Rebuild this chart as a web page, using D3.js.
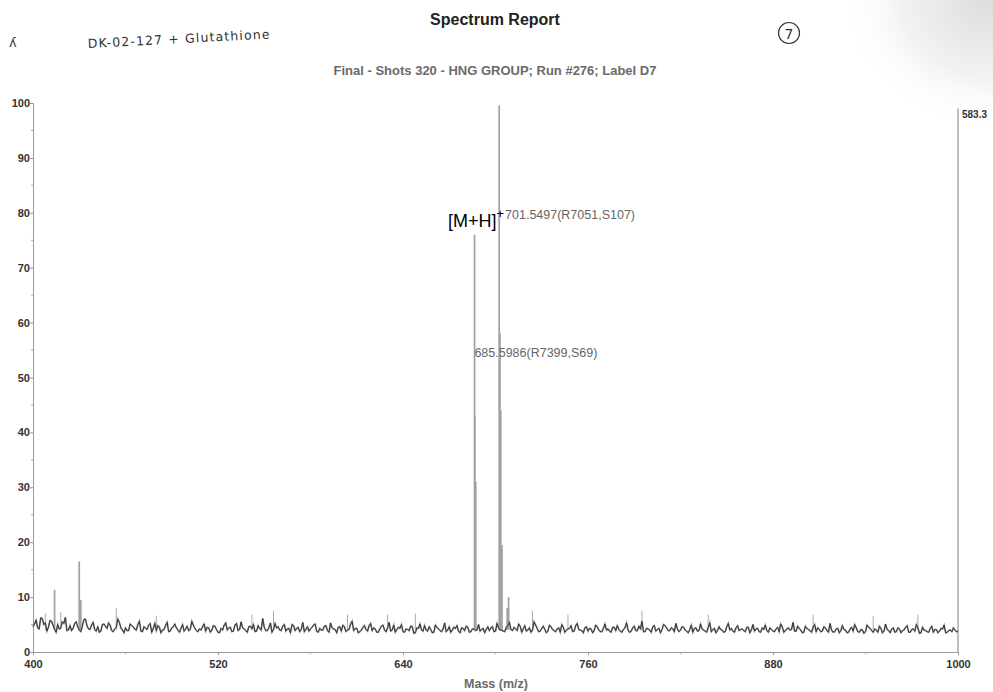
<!DOCTYPE html>
<html>
<head>
<meta charset="utf-8">
<script src="https://cdnjs.cloudflare.com/ajax/libs/d3/7.8.5/d3.min.js"></script>
<style>
  html, body { margin: 0; padding: 0; background: #fff; }
  svg { display: block; }
</style>
</head>
<body>
<svg id="spectrum"></svg>
<script>
// baseline noise (% intensity), even m/z 400..1000
const noiseEven = [
  4.6, 5.8, 4.2, 6.1, 5.3, 4.5, 5.6, 4.1, 5.0, 4.4, 5.2, 3.9, 4.8, 4.3, 5.5, 4.0, 4.7, 6.0, 4.2, 4.9,
  4.1, 4.6, 3.8, 5.1, 4.3, 4.9, 3.7, 4.5, 5.4, 4.0, 4.4, 3.9, 4.8, 4.2, 5.0, 3.8, 4.6, 4.1, 5.2, 4.3,
  3.9, 4.5, 4.0, 4.8, 3.7, 4.4, 5.1, 4.0, 4.3, 3.8, 4.7, 4.1, 4.9, 3.9, 4.2, 4.6, 3.8, 4.4, 4.0, 4.7,
  3.6, 4.3, 4.9, 4.0, 4.5, 3.8, 5.2, 4.1, 4.4, 3.9, 4.6, 4.2, 3.7, 4.8, 4.0, 4.5, 3.9, 5.3, 4.1, 4.4,
  4.0, 4.7, 3.8, 4.3, 5.0, 3.9, 4.5, 4.1, 3.7, 4.6, 4.2, 4.9, 3.8, 4.3, 4.0, 4.8, 3.6, 4.4, 4.1, 4.5,
  3.8, 4.6, 4.0, 5.1, 3.9, 4.3, 3.7, 4.5, 4.1, 4.8, 3.9, 4.2, 3.6, 4.7, 4.0, 4.4, 3.8, 4.9, 4.1, 4.3,
  3.7, 4.2, 3.9, 4.6, 3.5, 4.3, 4.0, 4.8, 3.8, 4.1, 3.6, 4.5, 3.9, 4.2, 3.7, 4.6, 4.0, 4.3, 3.8, 4.4,
  3.9, 4.5, 3.7, 4.2, 4.0, 3.8, 4.3, 4.1, 3.9, 4.6, 3.8, 4.4, 4.0, 3.7, 4.8, 4.1, 4.5, 3.9, 4.7, 4.2,
  3.8, 4.4, 4.0, 4.9, 3.7, 4.3, 4.1, 3.8, 4.6, 3.9, 4.2, 3.6, 4.5, 4.0, 4.3, 3.7, 4.8, 4.1, 3.9, 4.4,
  3.8, 4.2, 3.9, 4.6, 3.7, 4.3, 4.0, 3.8, 4.5, 3.9, 4.1, 3.6, 4.4, 4.0, 3.8, 4.7, 3.9, 4.2, 3.7, 4.3,
  4.0, 4.6, 3.8, 4.3, 4.1, 4.8, 3.9, 4.4, 3.7, 4.2, 4.0, 4.5, 3.8, 4.1, 3.6, 4.4, 3.9, 4.2, 3.8, 4.5,
  3.7, 4.3, 3.9, 4.1, 3.6, 4.6, 4.0, 3.8, 4.4, 3.9, 4.2, 3.7, 4.5, 4.0, 3.8, 4.3, 3.6, 4.1, 3.9, 4.4,
  3.8, 4.2, 3.7, 4.6, 3.9, 4.4, 4.1, 3.8, 4.7, 4.0, 3.6, 4.3, 3.9, 4.5, 3.7, 4.1, 3.8, 4.4, 3.6, 4.0,
  3.7, 4.3, 3.9, 4.1, 3.5, 4.2, 3.8, 4.4, 3.6, 4.0, 3.7, 4.5, 3.9, 4.2, 3.6, 4.3, 3.8, 4.1, 3.5, 4.4,
  3.7, 4.2, 3.9, 4.5, 3.6, 4.1, 3.8, 4.4, 3.5, 4.0, 3.7, 4.3, 3.6, 4.1, 3.8, 4.2, 3.5, 3.9, 3.7, 4.0, 3.8
];
// odd m/z 401..999
const noiseOdd = [
  5.1, 4.4, 6.2, 5.0, 3.8, 5.7, 4.9, 3.6, 4.2, 5.5, 6.3, 4.0, 3.9, 5.2, 4.6, 3.7, 5.9, 4.8, 4.1, 5.4,
  3.8, 3.6, 5.0, 4.7, 5.3, 3.9, 4.2, 6.0, 4.4, 3.5, 3.9, 5.1, 4.6, 4.0, 5.6, 3.7, 4.3, 4.9, 3.6, 5.2,
  4.8, 3.5, 4.1, 5.4, 3.8, 4.6, 4.4, 3.6, 5.0, 4.2, 3.9, 5.6, 4.3, 3.7, 4.0, 5.1, 4.5, 3.6, 4.8, 4.1,
  3.5, 4.0, 5.3, 4.4, 3.7, 4.9, 3.9, 5.5, 4.2, 3.6, 4.7, 5.0, 3.8, 4.3, 6.1, 3.9, 4.4, 3.6, 5.2, 4.6,
  3.9, 5.0, 4.2, 3.5, 4.8, 4.3, 3.7, 5.4, 4.1, 3.8, 4.5, 5.1, 3.6, 4.0, 4.7, 3.9, 5.3, 4.2, 3.5, 4.6,
  4.9, 3.7, 4.1, 5.6, 4.3, 3.5, 4.0, 4.8, 3.8, 5.2, 4.4, 3.6, 4.2, 4.9, 3.7, 5.4, 4.0, 3.6, 4.5, 5.0,
  3.6, 4.1, 4.7, 3.4, 4.4, 5.1, 3.8, 4.0, 4.6, 3.5, 4.9, 4.2, 3.7, 5.3, 4.0, 3.6, 4.5, 4.8, 3.5, 4.3,
  4.7, 3.6, 4.2, 3.9, 5.0, 4.1, 3.5, 4.6, 4.4, 3.7, 5.2, 4.0, 3.8, 4.5, 5.4, 3.9, 4.2, 5.1, 3.6, 4.8,
  4.0, 3.6, 5.5, 4.3, 3.8, 4.7, 3.5, 4.9, 4.1, 3.7, 4.4, 5.0, 3.6, 4.2, 4.8, 3.8, 5.2, 4.0, 3.5, 4.6,
  4.3, 3.5, 4.9, 4.0, 3.7, 5.1, 4.2, 3.6, 4.5, 4.8, 3.8, 4.1, 5.3, 3.6, 4.4, 3.9, 4.7, 5.6, 3.7, 4.2,
  3.6, 4.8, 4.1, 3.5, 5.0, 4.4, 3.9, 4.2, 5.2, 3.7, 4.6, 4.0, 3.5, 4.9, 4.3, 3.8, 5.1, 4.0, 3.6, 5.3,
  4.1, 3.5, 4.6, 4.0, 3.7, 5.2, 4.3, 3.6, 4.8, 4.1, 3.9, 4.5, 3.5, 5.0, 4.2, 3.7, 4.4, 4.9, 3.6, 4.1,
  3.7, 4.5, 5.1, 3.6, 4.2, 4.0, 5.4, 3.8, 4.3, 3.5, 4.7, 4.1, 3.6, 5.0, 4.4, 3.7, 4.6, 3.9, 5.2, 3.6,
  4.2, 3.5, 4.8, 4.0, 3.6, 4.5, 5.0, 3.7, 4.1, 3.4, 4.9, 4.3, 3.6, 4.0, 4.7, 3.5, 5.1, 3.9, 4.2, 3.6,
  4.4, 3.5, 4.0, 4.8, 3.6, 4.2, 5.0, 3.4, 4.5, 3.9, 3.6, 4.7, 4.1, 3.5, 4.3, 4.9, 3.6, 4.0, 4.4, 3.7
];

// small grey spikes sticking out of the noise
const spikeMz = [408, 418, 454, 480, 542, 556, 604, 630, 648, 724, 747, 795, 838, 906, 945, 974];
const spikeInt = [7.0, 7.3, 8.0, 6.6, 6.8, 7.5, 6.8, 6.8, 7.0, 7.5, 6.8, 7.5, 6.8, 6.8, 6.5, 6.8];

// peaks (m/z, % intensity)
const peakMz = [414, 430, 431, 686.4, 686.6, 687.2, 702.4, 702.9, 703.4, 704.2, 707.6, 708.5];
const peakInt = [11.3, 16.5, 9.5, 76, 43, 31, 99.6, 58, 44, 19.5, 8, 10];

const xTicks = [400, 520, 640, 760, 880, 1000];
const xMinor = [460, 580, 700, 820, 940];
const yTicks = [0, 10, 20, 30, 40, 50, 60, 70, 80, 90, 100];

const labelMz = [706.2, 686.3];
const labelInt = [79.6, 54.4];
const labelText = ["701.5497(R7051,S107)", "685.5986(R7399,S69)"];

const width = 993, height = 692;
const marginLeft = 33, marginRight = 35, marginTop = 103, marginBottom = 40;

const x = d3.scaleLinear([400, 1000], [marginLeft, width - marginRight]);
const y = d3.scaleLinear([0, 100], [height - marginBottom, marginTop]);

// interleave even and odd m/z samples into one trace
const trace = noiseEven.map((v, i) => [400 + 2 * i, v])
  .concat(noiseOdd.map((v, i) => [401 + 2 * i, v]))
  .sort((a, b) => a[0] - b[0]);

const svg = d3.select("#spectrum")
  .attr("width", width)
  .attr("height", height)
  .attr("viewBox", [0, 0, width, height])
  .attr("font-family", "'Liberation Sans', Arial, sans-serif");

// scanned paper shading in the top right corner
const defs = svg.append("defs");
const grad = defs.append("radialGradient").attr("id", "smudge")
  .attr("cx", "100%").attr("cy", "0%").attr("r", "100%");
grad.append("stop").attr("offset", "0%").attr("stop-color", "#dcdcdc");
grad.append("stop").attr("offset", "60%").attr("stop-color", "#f2f2f2");
grad.append("stop").attr("offset", "100%").attr("stop-color", "#ffffff").attr("stop-opacity", 0);
svg.append("rect")
  .attr("x", 840).attr("y", 0).attr("width", 153).attr("height", 130)
  .attr("fill", "url(#smudge)");

// titles
svg.append("text")
  .attr("x", 495).attr("y", 25)
  .attr("text-anchor", "middle")
  .attr("font-size", 16).attr("font-weight", "bold").attr("fill", "#222")
  .text("Spectrum Report");
svg.append("text")
  .attr("x", 495).attr("y", 75)
  .attr("text-anchor", "middle")
  .attr("font-size", 13).attr("font-weight", "bold").attr("fill", "#6a6a6a")
  .text("Final - Shots 320 - HNG GROUP; Run #276; Label D7");

// handwriting
svg.append("text")
  .attr("x", 9).attr("y", 47)
  .attr("font-family", "'DejaVu Sans', sans-serif")
  .attr("font-size", 13).attr("fill", "#333")
  .text("ʎ");
svg.append("text")
  .attr("transform", "translate(88,48) rotate(-3)")
  .attr("font-family", "'DejaVu Sans', sans-serif")
  .attr("font-size", 12.5).attr("fill", "#333")
  .attr("textLength", 182).attr("lengthAdjust", "spacing")
  .text("DK-02-127 + Glutathione");
svg.append("circle")
  .attr("cx", 789).attr("cy", 33).attr("r", 10.5)
  .attr("fill", "none").attr("stroke", "#333").attr("stroke-width", 1.2);
svg.append("text")
  .attr("x", 789).attr("y", 38.5)
  .attr("text-anchor", "middle")
  .attr("font-family", "'DejaVu Sans', sans-serif")
  .attr("font-size", 14).attr("fill", "#333")
  .text("7");

// axes
const xAxis = d3.axisBottom(x).tickValues(xTicks).tickSize(3).tickFormat(d3.format("d"));
const gx = svg.append("g")
  .attr("transform", `translate(0,${height - marginBottom})`)
  .call(xAxis);
gx.select(".domain").attr("stroke", "#999");
gx.selectAll(".tick line").attr("stroke", "#999");
gx.selectAll(".tick text")
  .attr("font-size", 11).attr("font-weight", "bold").attr("fill", "#333")
  .attr("font-family", "'Liberation Sans', Arial, sans-serif")
  .attr("dy", "0.9em");
gx.append("g").selectAll("line")
  .data(xMinor)
  .join("line")
  .attr("x1", d => x(d)).attr("x2", d => x(d))
  .attr("y1", 0).attr("y2", 2)
  .attr("stroke", "#aaa");

const yAxis = d3.axisLeft(y).tickValues(yTicks).tickSize(3);
const gy = svg.append("g")
  .attr("transform", `translate(${marginLeft},0)`)
  .call(yAxis);
gy.select(".domain").attr("stroke", "#999");
gy.selectAll(".tick line").attr("stroke", "#999");
gy.selectAll(".tick text")
  .attr("font-size", 11).attr("font-weight", "bold").attr("fill", "#333")
  .attr("font-family", "'Liberation Sans', Arial, sans-serif")
  .attr("x", -3);
gy.append("g").selectAll("line")
  .data(yTicks.slice(0, -1).map(d => d + 5))
  .join("line")
  .attr("x1", -2).attr("x2", 0)
  .attr("y1", d => y(d)).attr("y2", d => y(d))
  .attr("stroke", "#aaa");

svg.append("text")
  .attr("x", 496).attr("y", 688)
  .attr("text-anchor", "middle")
  .attr("font-size", 12.5).attr("font-weight", "bold").attr("fill", "#6a6a6a")
  .text("Mass (m/z)");

// right side intensity axis
svg.append("line")
  .attr("x1", x(1000)).attr("x2", x(1000))
  .attr("y1", y(99)).attr("y2", y(0))
  .attr("stroke", "#aaa").attr("stroke-width", 1.5);
svg.append("text")
  .attr("x", x(1000) + 4).attr("y", y(99) + 10)
  .attr("font-size", 10).attr("font-weight", "bold").attr("fill", "#333")
  .text("583.3");

// peaks
const base = 4;
svg.append("g").selectAll("line")
  .data(d3.range(peakMz.length))
  .join("line")
  .attr("x1", i => x(peakMz[i])).attr("x2", i => x(peakMz[i]))
  .attr("y1", y(base)).attr("y2", i => y(peakInt[i]))
  .attr("stroke", "#a0a0a0").attr("stroke-width", 1.7);

svg.append("g").selectAll("line")
  .data(d3.range(spikeMz.length))
  .join("line")
  .attr("x1", i => x(spikeMz[i])).attr("x2", i => x(spikeMz[i]))
  .attr("y1", y(base)).attr("y2", i => y(spikeInt[i]))
  .attr("stroke", "#aaa").attr("stroke-width", 1);

// noise trace
const line = d3.line()
  .x(d => x(d[0]))
  .y(d => y(d[1]));
svg.append("path")
  .datum(trace)
  .attr("fill", "none")
  .attr("stroke", "#999")
  .attr("stroke-width", 1.7)
  .attr("d", line);
svg.append("path")
  .datum(trace)
  .attr("fill", "none")
  .attr("stroke", "#2a2a2a")
  .attr("stroke-width", 0.9)
  .attr("d", line);

// peak labels
svg.append("g").selectAll("text")
  .data(d3.range(labelText.length))
  .join("text")
  .attr("x", i => x(labelMz[i]))
  .attr("y", i => y(labelInt[i]) + 4)
  .attr("font-size", 12.5).attr("fill", "#666")
  .text(i => labelText[i]);

// [M+H]+ annotation
const mh = svg.append("text")
  .attr("x", 448).attr("y", 227)
  .attr("font-family", "'Liberation Sans', Arial, sans-serif")
  .attr("font-size", 18).attr("fill", "#000");
mh.append("tspan").text("[M+H]");
mh.append("tspan").attr("dy", -9).attr("font-size", 13).text("+");
</script>
</body>
</html>
